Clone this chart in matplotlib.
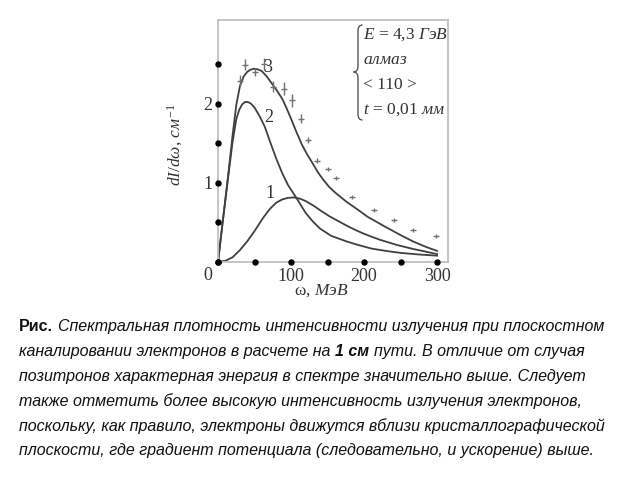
import matplotlib.pyplot as plt
from matplotlib.path import Path
from matplotlib.patches import PathPatch

plt.rcParams['font.family'] = 'Liberation Serif'
plt.rcParams['mathtext.fontset'] = 'custom'
plt.rcParams['mathtext.rm'] = 'Liberation Serif'
plt.rcParams['mathtext.it'] = 'Liberation Serif:italic'

# curve 1, 2, 3 (omega in MeV, dI/domega in 1/cm)
w1 = [0, 10, 20, 30, 40, 50, 62, 71, 80, 88, 96, 104, 112, 120, 131, 142, 153, 165, 176, 188, 199, 210, 222, 245, 267, 285, 300]
c1 = [0, 0.015, 0.06, 0.15, 0.26, 0.39, 0.56, 0.67, 0.75, 0.79, 0.81, 0.815, 0.80, 0.77, 0.71, 0.64, 0.575, 0.515, 0.46, 0.405, 0.36, 0.32, 0.28, 0.215, 0.165, 0.13, 0.10]

w2 = [0, 7, 14, 20, 25, 29, 33, 37, 41, 45, 50, 57, 64, 72, 80, 88, 96, 108, 120, 130, 140, 155, 176, 190, 210, 230, 250, 275, 300]
c2 = [0, 0.55, 1.08, 1.52, 1.80, 1.92, 1.99, 2.02, 2.02, 2.00, 1.95, 1.84, 1.71, 1.50, 1.30, 1.12, 0.97, 0.80, 0.62, 0.51, 0.42, 0.33, 0.26, 0.22, 0.17, 0.14, 0.115, 0.095, 0.08]

w3 = [0, 7, 14, 20, 25, 30, 35, 40, 45, 50, 55, 60, 67, 74, 81, 88, 94, 100, 107, 115, 122, 130, 137, 144, 152, 160, 168, 176, 190, 205, 228, 250, 267, 285, 300]
c3 = [0, 0.55, 1.10, 1.60, 1.98, 2.22, 2.34, 2.40, 2.43, 2.44, 2.43, 2.41, 2.34, 2.25, 2.16, 2.06, 1.94, 1.81, 1.65, 1.48, 1.36, 1.24, 1.13, 1.04, 0.95, 0.88, 0.82, 0.76, 0.67, 0.57, 0.45, 0.34, 0.26, 0.19, 0.14]

# experiment points with error bars
exp_w = [30.5, 36.5, 50, 62.5, 76, 90, 101, 114, 123, 136, 150, 162, 184, 214, 241.5, 267, 298]
exp_y = [2.29, 2.49, 2.40, 2.50, 2.21, 2.19, 2.04, 1.81, 1.54, 1.28, 1.17, 1.06, 0.82, 0.66, 0.53, 0.40, 0.33]
exp_err = [0.07, 0.07, 0.05, 0.08, 0.07, 0.08, 0.08, 0.06, 0.035, 0.03, 0.025, 0.025, 0.025, 0.025, 0.025, 0.025, 0.025]

dot_x = [0, 50, 100, 150, 200, 250, 300]
dot_y = [0, 0.5, 1, 1.5, 2, 2.5]

caption = [
    [("Рис.", 'bold', 'normal'), ("Спектральная плотность интенсивности излучения при плоскостном", 'normal', 'italic')],
    [("каналировании электронов в расчете на", 'normal', 'italic'), ("1 см", 'bold', 'italic'), ("пути. В отличие от случая", 'normal', 'italic')],
    [("позитронов характерная энергия в спектре значительно выше. Следует", 'normal', 'italic')],
    [("также отметить более высокую интенсивность излучения электронов,", 'normal', 'italic')],
    [("поскольку, как правило, электроны движутся вблизи кристаллографической", 'normal', 'italic')],
    [("плоскости, где градиент потенциала (следовательно, и ускорение) выше.", 'normal', 'italic')],
]

fig = plt.figure(figsize=(6.4, 4.8), dpi=100)
ax = fig.add_axes([218/640, 218/480, 230/640, 242/480])
ax.set_xlim(0, 315)
ax.set_ylim(0, 3.055)

for s in ax.spines.values():
    s.set_color('#c0c0c0')
    s.set_linewidth(1.3)

lc = '#404040'
ax.plot(w1, c1, color=lc, lw=1.3)
ax.plot(w2, c2, color=lc, lw=1.3)
ax.plot(w3, c3, color=lc, lw=1.3)
ax.errorbar(exp_w, exp_y, yerr=exp_err, fmt='_', ms=4, mew=1.0, elinewidth=1.0, color='#707070', capsize=0)

ax.plot(dot_x, [0]*len(dot_x), 'o', color='k', ms=3.6, clip_on=False, zorder=5)
ax.plot([0]*len(dot_y), dot_y, 'o', color='k', ms=3.6, clip_on=False, zorder=5)

ax.set_xticks([100, 200, 300])
ax.set_yticks([1, 2])
ax.tick_params(length=0, labelsize=13, labelcolor='#333333')
ax.tick_params(axis='x', pad=4)
ax.tick_params(axis='y', pad=4)
ax.annotate('0', xy=(0, 0), xytext=(-7.5, -9.5), textcoords='offset points',
            ha='center', va='center', fontsize=13, color='#333333')

for lab, x, y in [('1', 71, 0.87), ('2', 70, 1.82), ('3', 68.5, 2.45)]:
    ax.text(x, y, lab, fontsize=13, ha='center', va='center', color='#333333')

ax.text(0.45, -0.12, r"ω, $МэВ$", transform=ax.transAxes, ha='center', va='center', fontsize=12.5, color='#333333')
ax.text(-0.187, 0.483, r"$dI/d\omega$, $см^{-1}$", transform=ax.transAxes, rotation=90,
        ha='center', va='center', fontsize=12.5, color='#333333')

# parameter block with brace
fx = lambda px: (px - 218) / 230
fy = lambda py: (262 - py) / 242
x0, tip, hook, r = 358, 353.5, 362.5, 6
yt, ym, yb = 25, 72, 120
verts = [(hook, yt), (x0, yt), (x0, yt + r), (x0, ym - r), (x0, ym), (tip, ym),
         (x0, ym), (x0, ym + r), (x0, yb - r), (x0, yb), (hook, yb)]
codes = [Path.MOVETO, Path.CURVE3, Path.CURVE3, Path.LINETO, Path.CURVE3, Path.CURVE3,
         Path.CURVE3, Path.CURVE3, Path.LINETO, Path.CURVE3, Path.CURVE3]
brace = Path([(fx(a), fy(b)) for a, b in verts], codes)
ax.add_patch(PathPatch(brace, transform=ax.transAxes, fill=False, edgecolor='#555555', lw=1.0))

params = [r"$E$ = 4,3 $ГэВ$", r"$алмаз$", "< 110 >", r"$t$ = 0,01 $мм$"]
for i, s in enumerate(params):
    ax.text(fx(363), fy(35 + 25*i), s, transform=ax.transAxes, ha='left', va='center',
            fontsize=12.5, color='#333333')

# caption with mixed styles, all parts share one baseline
rend = fig.canvas.get_renderer()
fs = 11.5
sp = fig.text(0, 0, "a a", fontsize=fs, family='Liberation Sans')
nsp = fig.text(0, 0, "aa", fontsize=fs, family='Liberation Sans')
space = sp.get_window_extent(rend).width - nsp.get_window_extent(rend).width
sp.remove()
nsp.remove()

for i, parts in enumerate(caption):
    x = 19
    y = 331 + 24.9*i
    for txt, weight, style in parts:
        t = fig.text(x/640, 1 - y/480, txt, fontsize=fs, family='Liberation Sans',
                     weight=weight, style=style, ha='left', va='baseline', color='#111111')
        x += t.get_window_extent(rend).width + space

fig.savefig('out.png', dpi=100)
